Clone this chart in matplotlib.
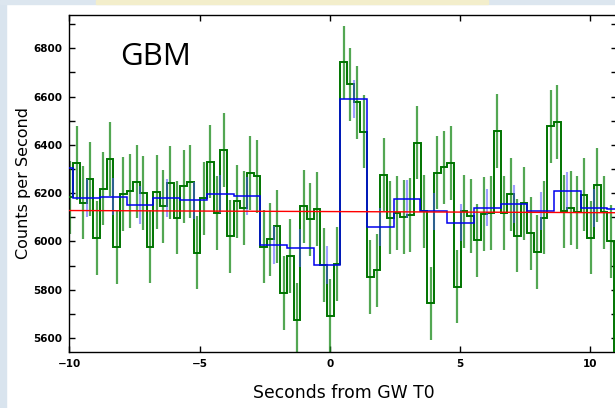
import numpy as np
import matplotlib
matplotlib.use('Agg')
import matplotlib.pyplot as plt
from matplotlib.patches import Rectangle


# 0.2565 s bins (green) and 4-bin groups (blue)
green_t0 = -10.104
green_dt = 0.2565
green_rate = [6183, 6324, 6161, 6258, 6014, 6219, 6341, 5975, 6196, 6208,
              6247, 6200, 5979, 6204, 6145, 6244, 6099, 6228, 6248, 5954,
              6179, 6331, 6117, 6379, 6021, 6166, 6138, 6283, 6269, 5979,
              6009, 6063, 5787, 5939, 5674, 6145, 6091, 6134, 5903, 5693,
              5907, 6741, 6650, 6576, 6455, 5852, 5880, 6276, 6099, 6117,
              6102, 6110, 6409, 6124, 5744, 6285, 6307, 6324, 5813, 6124,
              6106, 6004, 6113, 6117, 6458, 6117, 6195, 6024, 6158, 6034,
              5957, 6099, 6476, 6495, 6124, 6138, 6120, 6194, 6016, 6234,
              6121, 6000]
green_err = 152

blue_t0 = -10.874
blue_dt = 1.026
blue_rate = [6303, 6179, 6186, 6152, 6179, 6170, 6197, 6189, 5986, 5972,
             5903, 6590, 6059, 6176, 6124, 6078, 6140, 6154, 6126, 6209,
             6138, 6134]
blue_err = 78

bkg_t = [-10.0, 11.0]
bkg_rate = [6128, 6119]

x_ticks = [-10, -5, 0, 5, 10]
y_ticks = [5600, 5800, 6000, 6200, 6400, 6600, 6800]


def edges_of(t0, dt, n):
    e = t0 + dt * np.arange(n + 1)
    return e, e[:-1] + dt / 2


fig = plt.figure(figsize=(6.15, 4.08), dpi=100)

# screenshot border strips
fig.patches.append(Rectangle((0, 0), 6 / 615, 1, transform=fig.transFigure,
                             color='#d9e4ee', zorder=0))
fig.patches.append(Rectangle((0, 1 - 4 / 408), 1, 4 / 408, transform=fig.transFigure,
                             color='#dce6ef', zorder=0))
fig.patches.append(Rectangle((96 / 615, 1 - 4 / 408), 392 / 615, 4 / 408,
                             transform=fig.transFigure, color='#f3eecb', zorder=1))

ax = fig.add_axes([69.4 / 615, 55.7 / 408, 547.6 / 615, 337.4 / 408])

ge, gc = edges_of(green_t0, green_dt, len(green_rate))
be, bc = edges_of(blue_t0, blue_dt, len(blue_rate))

ax.errorbar(gc, green_rate, yerr=green_err, fmt='none', ecolor='#1a8a1a',
            elinewidth=1.6, alpha=0.75, zorder=2)
ax.stairs(green_rate, ge, color='#007400', lw=1.4, zorder=3)

ax.errorbar(bc, blue_rate, yerr=blue_err, fmt='none', ecolor='#4f4fff',
            elinewidth=1.5, alpha=0.55, zorder=4)
ax.stairs(blue_rate, be, color='#0000ee', lw=1.1, zorder=5)

ax.plot(bkg_t, bkg_rate, color='red', lw=1.0, zorder=6)

ax.set_xlim(-10, 11.04)
ax.set_ylim(5541, 6938)
ax.set_xticks(x_ticks)
ax.set_xticklabels(['\u221210', '\u22125', '0', '5', '10'])
ax.set_yticks(y_ticks)
ax.set_yticks(np.arange(5600, 6950, 100), minor=True)
ax.tick_params(which='both', direction='in', top=True, right=True,
               length=4, width=1, labelsize=7.5)
ax.tick_params(which='major', pad=5)
for lab in ax.get_xticklabels() + ax.get_yticklabels():
    lab.set_fontweight('bold')
for s in ax.spines.values():
    s.set_linewidth(1.0)

ax.set_xlabel('Seconds from GW T0', fontsize=12.4, va='center')
ax.xaxis.set_label_coords(0.501, -0.1206)
ax.set_ylabel('Counts per Second', fontsize=11.5, va='center')
ax.yaxis.set_label_coords(-0.0847, 0.503)

ax.text(0.093, 0.875, 'GBM', transform=ax.transAxes, fontsize=22.5,
        family='Open Sans', va='center', ha='left')

fig.savefig('out.png', dpi=100)
